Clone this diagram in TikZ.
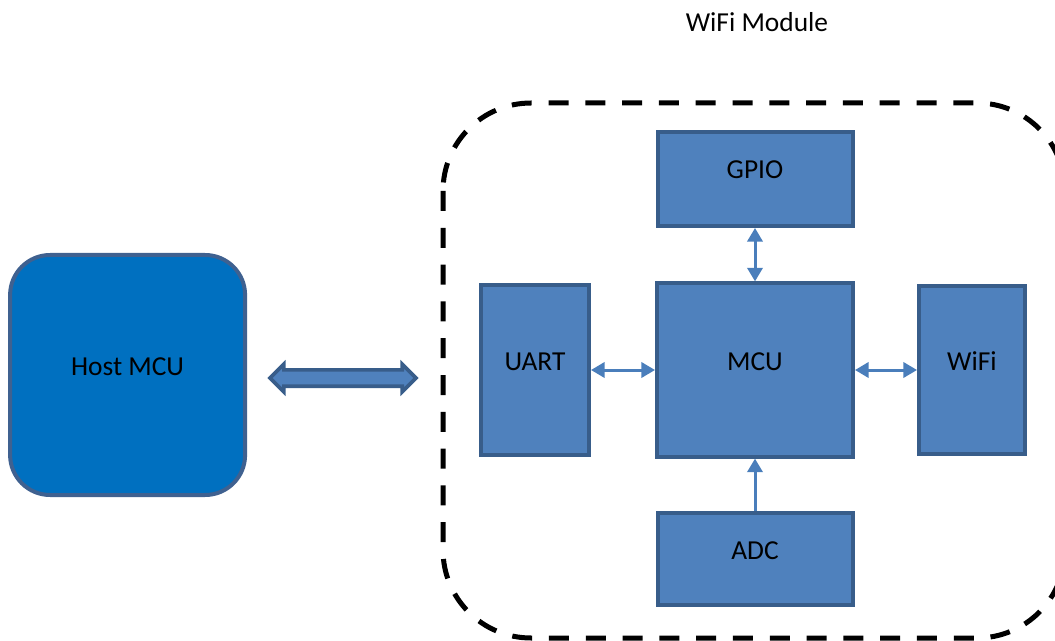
\documentclass[tikz,border=0pt]{standalone}
\usepackage{fontspec}
\setmainfont{Carlito}
\usetikzlibrary{arrows.meta,shapes.arrows}
\definecolor{boxfill}{HTML}{4F81BD}
\definecolor{boxline}{HTML}{385D8A}
\definecolor{hostfill}{HTML}{0070C0}
\definecolor{hostline}{HTML}{3F6190}
\definecolor{linkcol}{HTML}{4A7EBB}
\tikzset{
  block/.style={draw=boxline,fill=boxfill,line width=0.1cm,inner sep=0pt,
    text height=0.44cm,text depth=0.44cm},
  link/.style={draw=linkcol,line width=0.075cm,
    {Triangle[length=0.34cm,width=0.38cm]}-{Triangle[length=0.34cm,width=0.38cm]}},
  uplink/.style={draw=linkcol,line width=0.075cm,-{Triangle[length=0.34cm,width=0.38cm]}}
}
\begin{document}
\begin{tikzpicture}[font=\fontsize{19.5}{22}\selectfont]
    \useasboundingbox (0,0) rectangle (26.375,-16.025);
    \clip (0,0) rectangle (26.375,-16.025);

    \node (title) at (18.925,-0.55) {WiFi Module};
    \draw[line width=0.125cm,dash pattern=on 0.5cm off 0.42cm,rounded corners=2.2cm]
        (11.075,-2.575) rectangle (26.625,-15.95);

    \node[block,minimum width=4.9cm,minimum height=4.33cm] (mcu) at (18.875,-9.25) {MCU};
    \node[block,minimum width=4.875cm,minimum height=2.35cm] (gpio) [above of=mcu,node distance=4.775cm] {GPIO};
    \node[block,minimum width=4.875cm,minimum height=2.3cm] (adc) [below of=mcu,node distance=4.725cm] {ADC};
    \node[block,minimum width=2.7cm,minimum height=4.25cm] (uart) [left of=mcu,node distance=5.5cm] {UART};
    \node[block,minimum width=2.65cm,minimum height=4.18cm] (wifi) [right of=mcu,node distance=5.425cm] {WiFi};

    \node[block,draw=hostline,fill=hostfill,rounded corners=1cm,
        minimum width=5.875cm,minimum height=6cm] (host) at (3.19,-9.375) {Host MCU};

    \node[double arrow,draw=boxline,fill=boxfill,line width=0.09cm,inner xsep=0pt,inner ysep=0.16cm,
        minimum height=3.65cm,double arrow head extend=0.14cm] (bus) at (8.575,-9.45) {};

    \draw[link] (uart) -- (mcu);
    \draw[link] (mcu) -- (wifi);
    \draw[link] (gpio) -- (mcu);
    \draw[uplink] (adc) -- (mcu);
\end{tikzpicture}
\end{document}
